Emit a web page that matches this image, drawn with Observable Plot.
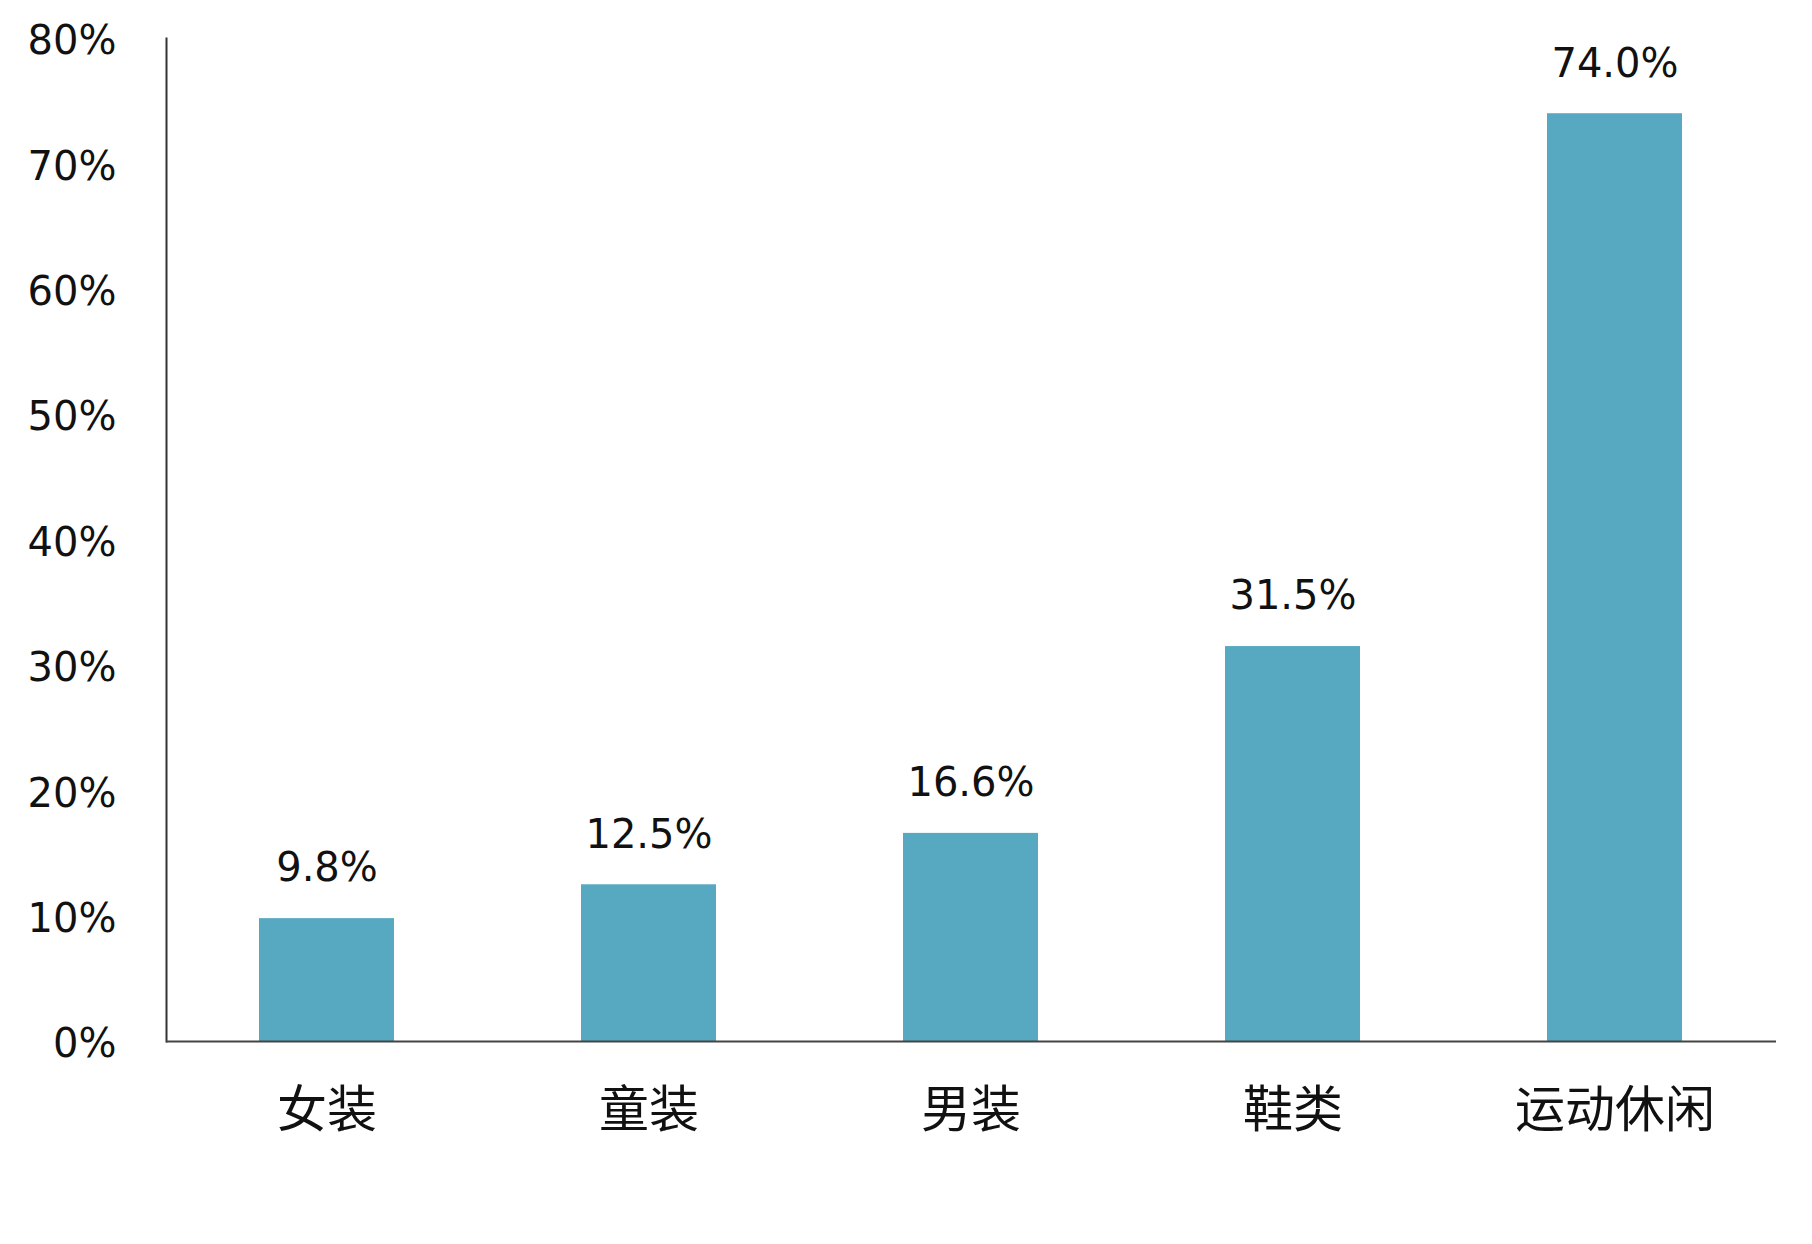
<!DOCTYPE html>
<html>
<head>
<meta charset="utf-8">
<script src="https://cdn.jsdelivr.net/npm/d3@7"></script>
<script src="https://cdn.jsdelivr.net/npm/@observablehq/plot@0.6"></script>
<style>
  html, body { margin: 0; padding: 0; background: #fff; }
  #chart svg { display: block; }
</style>
</head>
<body>
<div id="chart"></div>
<script>
const categories = ["女装", "童装", "男装", "鞋类", "运动休闲"];
const values = [9.8, 12.5, 16.6, 31.5, 74.0];
const yTicks = [0, 10, 20, 30, 40, 50, 60, 70, 80];

const data = categories.map((c, i) => ({category: c, value: values[i]}));

const chart = Plot.plot({
  width: 1812,
  height: 1244,
  marginLeft: 166,
  marginRight: 36,
  marginTop: 38,
  marginBottom: 203,
  style: {fontFamily: "'DejaVu Sans', 'Noto Sans CJK SC', sans-serif", background: "#fff", color: "#111"},
  x: {domain: categories, paddingInner: 0.58, paddingOuter: 0.29, label: null},
  y: {domain: [0, 80], label: null},
  marks: [
    Plot.barY(data, {x: "category", y: "value", fill: "#56A9C1"}),
    Plot.text(data, {
      x: "category", y: "value",
      text: d => d.value.toFixed(1) + "%",
      dy: -50, fontSize: 40, fill: "#111", lineAnchor: "middle"
    }),
    Plot.axisY({ticks: yTicks, tickFormat: d => d + "%", tickSize: 0, tickPadding: 50, fontSize: 40, dy: 3, label: null}),
    Plot.axisX({tickSize: 0, tickPadding: 50, fontSize: 50, label: null, fontFamily: "'Noto Sans CJK SC', sans-serif"}),
    Plot.frame({anchor: "left", stroke: "#333", strokeWidth: 2}),
    Plot.ruleY([0], {stroke: "#444", strokeWidth: 2})
  ]
});
document.getElementById("chart").appendChild(chart);
</script>
</body>
</html>
